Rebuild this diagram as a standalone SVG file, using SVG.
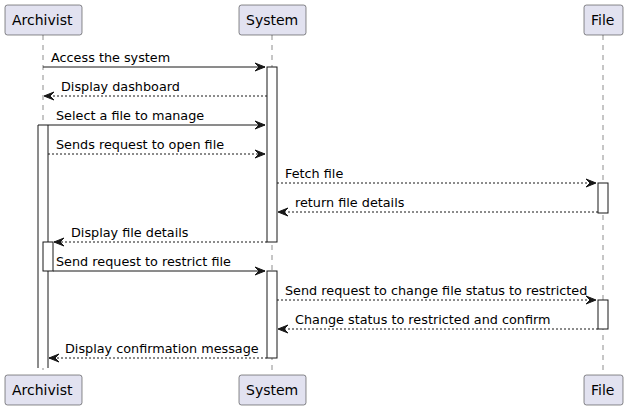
<svg xmlns="http://www.w3.org/2000/svg" width="628" height="411" viewBox="0 0 628 411">
<defs>
<style>
.box{fill:#E2E2F0;stroke:#181818;stroke-width:0.5}
.pt{font-family:"DejaVu Sans",sans-serif;font-size:14px;fill:#000}
.life{stroke:#181818;stroke-width:0.5;stroke-dasharray:5,5;fill:none}
.act{fill:#FFFFFF;stroke:#181818;stroke-width:1}
.msg{stroke:#181818;stroke-width:1;fill:none}
.dash{stroke-dasharray:2,2}
.mt{font-family:"DejaVu Sans",sans-serif;font-size:12.8px;fill:#000}
.ah{fill:#181818;stroke:#181818;stroke-width:1}
</style>
</defs>
<g id="lifelines">
<line class="life" x1="43" y1="35" x2="43" y2="375"/>
<line class="life" x1="272" y1="35" x2="272" y2="375"/>
<line class="life" x1="603" y1="35" x2="603" y2="375"/>
</g>
<g id="activations">
<path class="act" d="M38,368 L38,125 L48,125 L48,368"/>
<rect class="act" x="43" y="242" width="10" height="29"/>
<rect class="act" x="267" y="67" width="10" height="175"/>
<rect class="act" x="267" y="271" width="10" height="87"/>
<rect class="act" x="598" y="183" width="10" height="30"/>
<rect class="act" x="598" y="300" width="10" height="29"/>
</g>
<g id="archivist">
<rect class="box" x="5" y="5" width="77" height="30" rx="2.5"/>
<text class="pt" x="12" y="25">Archivist</text>
<rect class="box" x="5" y="375" width="77" height="30" rx="2.5"/>
<text class="pt" x="12" y="395">Archivist</text>
</g>
<g id="system">
<rect class="box" x="239" y="5" width="67" height="30" rx="2.5"/>
<text class="pt" x="246" y="25">System</text>
<rect class="box" x="239" y="375" width="67" height="30" rx="2.5"/>
<text class="pt" x="246" y="395">System</text>
</g>
<g id="file">
<rect class="box" x="584" y="5" width="39" height="30" rx="2.5"/>
<text class="pt" x="591" y="25">File</text>
<rect class="box" x="584" y="375" width="39" height="30" rx="2.5"/>
<text class="pt" x="591" y="395">File</text>
</g>
<g id="connectors">
<line class="msg" x1="43" y1="67" x2="265" y2="67"/>
<polygon class="ah" points="255,63 265,67 255,71 259,67"/>
<text class="mt" x="51" y="62">Access the system</text>

<line class="msg dash" x1="267" y1="96" x2="44" y2="96"/>
<polygon class="ah" points="54,92 44,96 54,100 50,96"/>
<text class="mt" x="61" y="91">Display dashboard</text>

<line class="msg" x1="48" y1="125" x2="265" y2="125"/>
<polygon class="ah" points="255,121 265,125 255,129 259,125"/>
<text class="mt" x="56" y="120">Select a file to manage</text>

<line class="msg dash" x1="48" y1="154" x2="265" y2="154"/>
<polygon class="ah" points="255,150 265,154 255,158 259,154"/>
<text class="mt" x="56" y="149">Sends request to open file</text>

<line class="msg dash" x1="277" y1="183" x2="596" y2="183"/>
<polygon class="ah" points="586,179 596,183 586,187 590,183"/>
<text class="mt" x="285" y="178">Fetch file</text>

<line class="msg dash" x1="598" y1="212" x2="278" y2="212"/>
<polygon class="ah" points="288,208 278,212 288,216 284,212"/>
<text class="mt" x="295" y="207">return file details</text>

<line class="msg dash" x1="267" y1="242" x2="54" y2="242"/>
<polygon class="ah" points="64,238 54,242 64,246 60,242"/>
<text class="mt" x="71" y="237">Display file details</text>

<line class="msg" x1="53" y1="271" x2="265" y2="271"/>
<polygon class="ah" points="255,267 265,271 255,275 259,271"/>
<text class="mt" x="56" y="266">Send request to restrict file</text>

<line class="msg dash" x1="277" y1="300" x2="596" y2="300"/>
<polygon class="ah" points="586,296 596,300 586,304 590,300"/>
<text class="mt" x="285" y="295">Send request to change file status to restricted</text>

<line class="msg dash" x1="598" y1="329" x2="278" y2="329"/>
<polygon class="ah" points="288,325 278,329 288,333 284,329"/>
<text class="mt" x="295" y="324">Change status to restricted and confirm</text>

<line class="msg dash" x1="267" y1="358" x2="49" y2="358"/>
<polygon class="ah" points="59,354 49,358 59,362 55,358"/>
<text class="mt" x="65" y="353">Display confirmation message</text>
</g>
</svg>
